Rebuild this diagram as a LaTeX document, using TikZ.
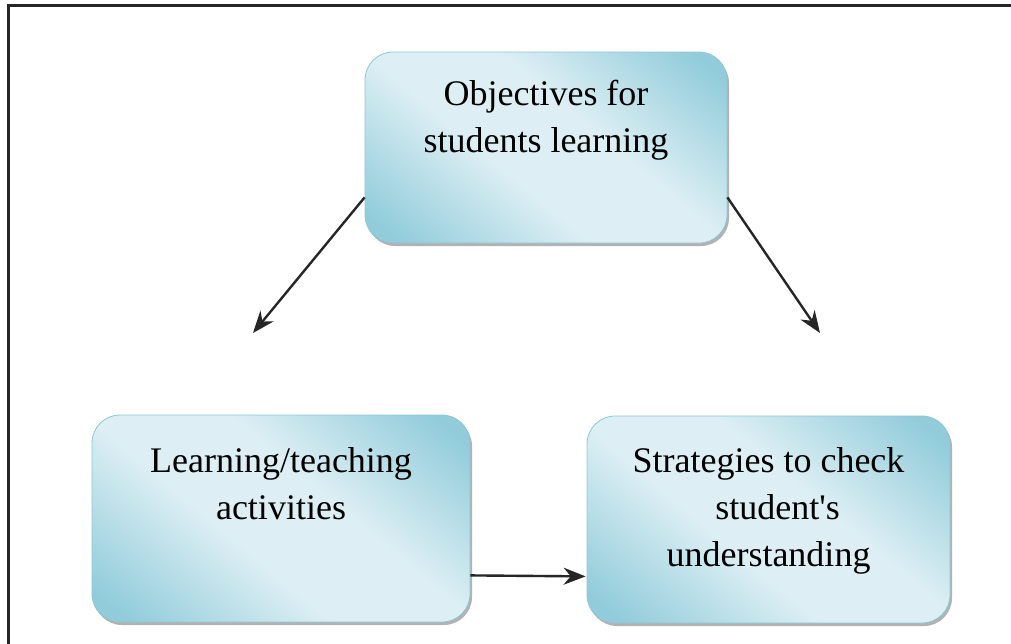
\documentclass[tikz,border=0pt]{standalone}
\usepackage{fontspec}
\setmainfont{Liberation Serif}
\usetikzlibrary{arrows.meta,shadows}

\definecolor{boxdark}{HTML}{92CCDB}
\definecolor{boxlight}{HTML}{DDEFF4}
\definecolor{boxedge}{HTML}{8EC6D5}

% soft two-sided fill: darker towards two opposite corners
\pgfdeclareverticalshading{boxshade}{100bp}{color(0bp)=(boxdark); color(19bp)=(boxdark); color(42bp)=(boxlight); color(58bp)=(boxlight); color(81bp)=(boxdark); color(100bp)=(boxdark)}

% box text: fixed-size, top-aligned, centred lines
\newcommand{\boxtext}[4]{\parbox[c][#2][t]{#1}{\centering\fontsize{36}{47}\selectfont\rule{0pt}{#3}#4}}

\begin{document}
\begin{tikzpicture}[x=1pt,y=-1pt,
  stagebox/.style={rounded corners=28pt, inner sep=0pt, draw=boxedge, line width=0.8pt,
    shading=boxshade, shading angle=-40,
    general shadow={fill=black!30, shadow xshift=2pt, shadow yshift=-3pt}},
  arr/.style={-{Stealth[length=22pt,width=17pt]}, line width=2.4pt, black!85}]
  \useasboundingbox (0,0) rectangle (1011,643);

  % page frame (left and top edges)
  \draw[line width=2.2pt, black!85] (8.5,650) -- (8.5,5.5) -- (1020,5.5);

  \node[stagebox] (obj) at (546,147.5)
    {\boxtext{362pt}{191pt}{53pt}{Objectives for\\students learning}};
  \node[stagebox] (act) at (281,518.5)
    {\boxtext{378pt}{207pt}{57pt}{Learning/teaching\\activities}};
  \node[stagebox] (chk) at (768.5,519.5)
    {\boxtext{363pt}{207pt}{56pt}{Strategies to check\\\hspace*{0.5em}student\textquotesingle s\\understanding}};

  \coordinate (lefttip) at (253,333);
  \coordinate (righttip) at (820,333);

  \draw[arr] ([yshift=46pt]obj.south west) -- (lefttip);
  \draw[arr] ([yshift=46pt]obj.south east) -- (righttip);
  \draw[arr, shorten >=1pt] ([yshift=47pt]act.south east) -- ([yshift=47pt]chk.south west);
\end{tikzpicture}
\end{document}
